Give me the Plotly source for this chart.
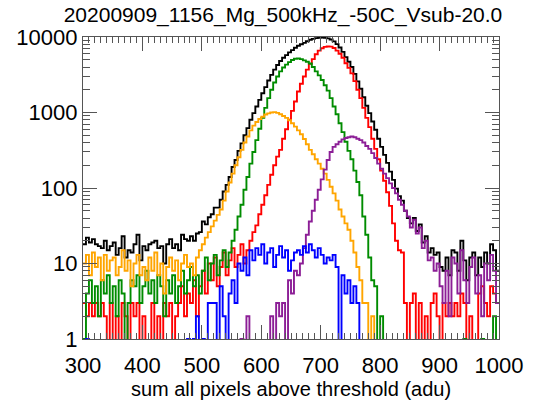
import plotly.graph_objects as go

title_text = "20200909_1156_Mg_500kHz_-50C_Vsub-20.0"
x_title = "sum all pixels above threshold (adu)"
bin_start = 300
bin_width = 5
x_ticks = [300, 400, 500, 600, 700, 800, 900, 1000]
y_tickvals = [1, 10, 100, 1000, 10000]
y_ticktext = ["1", "10", "100", "1000", "10000"]

# counts per 5-adu bin, bins 300..995
black = [
    18, 22, 19, 21, 18, 17, 16, 20, 15, 17,
    19, 13, 16, 23, 12, 15, 14, 18, 24, 11,
    17, 15, 18, 19, 20, 16, 17, 10, 18, 21,
    16, 18, 15, 24, 21, 20, 23, 20, 25, 26,
    36, 33, 41, 45, 55, 55, 70, 90, 110, 140,
    190, 235, 310, 390, 500, 620, 800, 980, 1200, 1470,
    1800, 2170, 2650, 3150, 3700, 4250, 4800, 5300, 5750, 6250,
    6700, 7200, 7650, 8000, 8350, 8800, 9200, 9450, 9650, 9750,
    9800, 9750, 9600, 9250, 8750, 8050, 7250, 6350, 5420, 4700,
    4000, 3250, 2580, 2060, 1590, 1230, 980, 760, 590, 450,
    350, 275, 215, 165, 128, 98, 78, 68, 50, 40,
    34, 40, 27, 33, 19, 23, 14, 16, 13, 14,
    9, 8, 12, 7, 15, 14, 8, 20, 11, 6,
    12, 14, 7, 12, 9, 14, 10, 18, 15, 8,
]
red = [
    3, 2, 3, 2, 3, 2, 3, 2, 0, 3,
    0, 2, 0, 3, 2, 0, 3, 2, 3, 0,
    2, 0, 0, 3, 0, 2, 0, 3, 2, 3,
    0, 2, 3, 5, 2, 4, 3, 6, 2, 5,
    8, 4, 10, 6, 12, 5, 9, 14, 7, 11,
    16, 9, 13, 18, 10, 15, 20, 26, 32, 45,
    60, 80, 110, 150, 200, 260, 320, 450, 600, 800,
    1050, 1400, 1900, 2400, 3000, 3700, 4400, 5100, 5900, 6600,
    7100, 7400, 7500, 7450, 7150, 6600, 6000, 5300, 4500, 3900,
    3300, 2600, 2000, 1550, 1150, 850, 640, 450, 330, 240,
    170, 125, 88, 58, 34, 20, 15, 14, 3, 0,
    3, 4, 0, 3, 0, 2, 0, 3, 4, 2,
    0, 3, 2, 3, 2, 3, 2, 4, 3, 0,
    2, 0, 0, 4, 5, 3, 2, 5, 4, 3,
]
green = [
    1, 4, 6, 3, 5, 2, 6, 4, 7, 3,
    5, 2, 6, 4, 0, 3, 6, 5, 7, 3,
    5, 8, 4, 6, 3, 7, 5, 2, 6, 4,
    7, 3, 5, 8, 4, 6, 9, 5, 7, 4,
    8, 12, 6, 10, 13, 7, 11, 15, 9, 14,
    20, 28, 42, 60, 95, 140, 210, 300, 430, 610,
    850, 1150, 1550, 2000, 2500, 3000, 3500, 3950, 4300, 4650,
    4950, 5150, 5200, 5100, 4900, 4700, 4450, 4000, 3500, 3100,
    2700, 2300, 1950, 1550, 1200, 950, 720, 550, 410, 310,
    240, 170, 120, 80, 42, 24, 12, 6, 5, 0,
    2, 0, 0, 0, 0, 0, 0, 0, 0, 0,
    0, 0, 0, 0, 0, 0, 0, 0, 0, 0,
    0, 0, 0, 0, 0, 0, 0, 0, 1, 0,
    0, 0, 0, 0, 1, 0, 0, 0, 2, 0,
]
orange = [
    10, 13, 7, 14, 9, 12, 6, 13, 8, 11,
    12, 7, 9, 15, 8, 11, 5, 10, 13, 7,
    9, 6, 12, 8, 14, 7, 10, 4, 9, 12,
    8, 11, 6, 10, 13, 9, 10, 7, 12, 15,
    18, 22, 26, 31, 37, 44, 52, 68, 90, 118,
    155, 200, 255, 320, 400, 480, 580, 670, 750, 820,
    880, 940, 975, 1000, 1010, 990, 950, 900, 850, 790,
    720, 650, 580, 515, 445, 380, 320, 280, 240, 210,
    180, 155, 128, 104, 85, 68, 52, 42, 34, 28,
    20, 14, 9, 6, 3, 3, 0, 2, 0, 0,
    0, 0, 0, 0, 0, 0, 0, 0, 0, 0,
    0, 0, 0, 0, 0, 0, 0, 0, 0, 0,
    0, 0, 0, 0, 0, 0, 0, 0, 0, 0,
    0, 0, 0, 0, 0, 0, 0, 0, 0, 0,
]
purple = [
    0, 0, 0, 0, 0, 0, 0, 0, 0, 0,
    0, 0, 0, 0, 0, 0, 0, 0, 0, 0,
    0, 0, 0, 0, 0, 0, 0, 0, 0, 0,
    0, 0, 0, 0, 0, 0, 0, 0, 0, 0,
    0, 0, 0, 0, 0, 0, 0, 0, 0, 0,
    0, 0, 0, 1, 0, 2, 0, 0, 0, 0,
    0, 0, 0, 2, 0, 3, 2, 3, 0, 6,
    4, 8, 7, 10, 16, 24, 36, 50, 70, 95,
    130, 175, 235, 300, 350, 380, 410, 440, 460, 470,
    480, 470, 450, 430, 400, 360, 330, 290, 250, 210,
    180, 155, 135, 115, 100, 85, 70, 60, 50, 42,
    30, 38, 25, 30, 16, 20, 11, 12, 8, 10,
    5, 3, 8, 2, 12, 10, 4, 15, 6, 3,
    9, 12, 4, 7, 2, 10, 6, 13, 8, 3,
]
blue = [
    0, 1, 0, 0, 0, 0, 0, 0, 0, 0,
    0, 0, 0, 0, 0, 0, 0, 0, 0, 0,
    0, 0, 0, 0, 0, 0, 0, 0, 0, 0,
    0, 0, 0, 0, 0, 1, 0, 1, 2, 0,
    1, 0, 3, 3, 3, 0, 5, 2, 0, 4,
    6, 3, 10, 8, 12, 7, 15, 11, 16, 13,
    18, 10, 14, 16, 9, 13, 17, 12, 15, 8,
    11, 14, 15, 13, 17, 14, 18, 15, 12, 16,
    13, 10, 12, 11, 13, 9, 0, 7, 4, 6,
    3, 5, 3, 0, 0, 0, 0, 0, 0, 0,
    0, 0, 0, 0, 0, 0, 0, 0, 0, 0,
    0, 0, 0, 0, 0, 0, 0, 0, 0, 0,
    0, 0, 0, 0, 0, 0, 0, 0, 0, 0,
    0, 0, 0, 0, 0, 0, 0, 0, 0, 0,
]

series = [
    ("black", black, "black"),
    ("red", red, "#ff0000"),
    ("green", green, "#008c00"),
    ("orange", orange, "#ffa500"),
    ("purple", purple, "#8c1e96"),
    ("blue", blue, "#0000ff"),
]

FLOOR = 0.3  # zero counts fall below the log axis and are clipped

fig = go.Figure()
for name, vals, color in series:
    n = len(vals)
    xs = [bin_start + bin_width * i for i in range(n)] + [bin_start + bin_width * n]
    ys = [v if v > 0 else FLOOR for v in vals] + [vals[-1] if vals[-1] > 0 else FLOOR]
    fig.add_trace(go.Scatter(x=xs, y=ys, mode="lines", line=dict(color=color, width=1.9, shape="hv"),
                             name=name, showlegend=False, cliponaxis=True))

axis_color = "#555555"
fig.update_layout(
    width=541, height=404,
    margin=dict(l=83, r=42, t=37, b=52),
    paper_bgcolor="white", plot_bgcolor="white",
    font=dict(family="Liberation Sans, Arial, sans-serif", color="black"),
    title=dict(text=title_text, x=283 / 541, xref="container", xanchor="center",
               y=1 - 15 / 404, yref="container", yanchor="middle", font=dict(size=21)),
    xaxis=dict(range=[300, 1000], tickvals=x_ticks, ticks="inside", ticklen=14, tickcolor=axis_color,
               tickwidth=1, showline=True, linecolor=axis_color, linewidth=1.2, mirror="ticks",
               showgrid=False, zeroline=False, tickfont=dict(size=22), ticklabelstandoff=6,
               minor=dict(dtick=10, tick0=300, ticks="inside", ticklen=6, tickcolor=axis_color, showgrid=False),
               title=dict(text=x_title, font=dict(size=20), standoff=0)),
    yaxis=dict(type="log", range=[0, 4], tickvals=y_tickvals, ticktext=y_ticktext, ticks="inside",
               ticklen=14, tickcolor=axis_color, tickwidth=1, showline=True, linecolor=axis_color,
               linewidth=1.2, mirror="ticks", showgrid=False, zeroline=False, tickfont=dict(size=22),
               minor=dict(dtick="D1", ticks="inside", ticklen=7, tickcolor=axis_color, showgrid=False)),
)

fig.write_html("out.html")
